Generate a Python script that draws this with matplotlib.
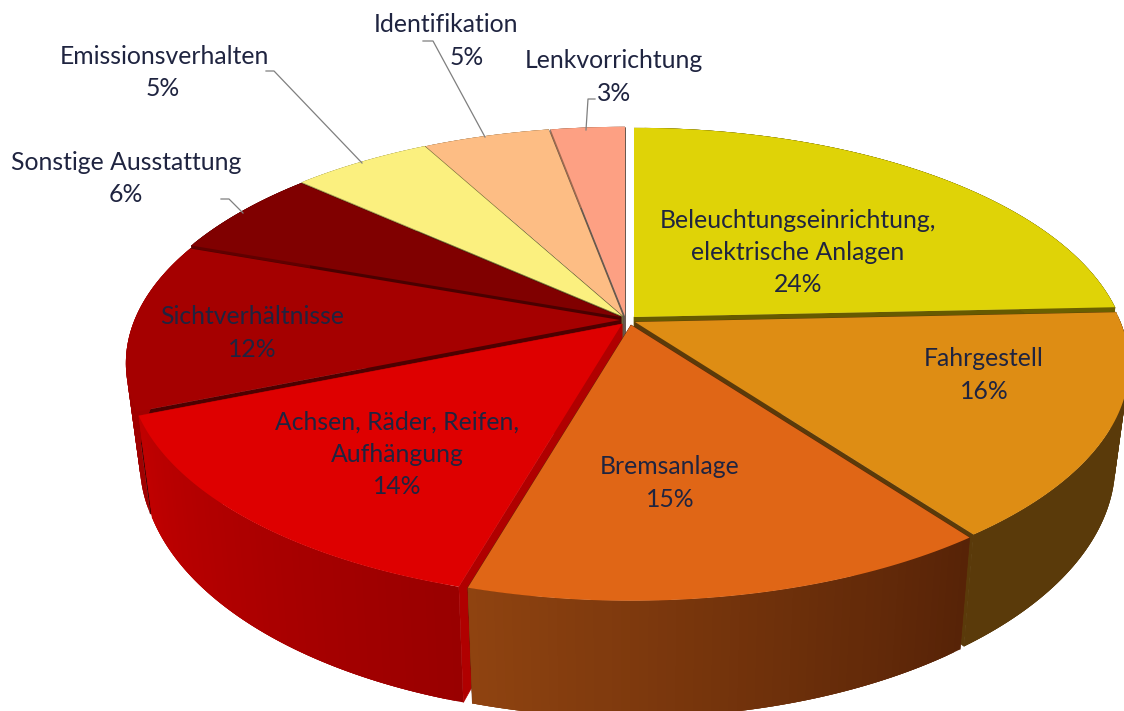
import matplotlib
matplotlib.use("Agg")
import matplotlib.pyplot as plt
import matplotlib.colors as mcolors
import numpy as np

names = ["Beleuchtungseinrichtung,\nelektrische Anlagen", "Fahrgestell", "Bremsanlage",
         "Achsen, Räder, Reifen,\nAufhängung", "Sichtverhältnisse", "Sonstige Ausstattung",
         "Emissionsverhalten", "Identifikation", "Lenkvorrichtung"]
values = [24.3, 15.6, 14.55, 14.35, 11.7, 6.2, 5.45, 4.95, 2.9]

top_colors = ["#dfd307", "#de8d14", "#e06616", "#de0000", "#a50000", "#800000", "#fbf07f", "#fdbd84", "#fda083"]
wall_start = ["#6b6000", "#5a3a0a", "#572307", "#990000", "#a00000", "#600000", "#a09a50", "#a07a50", "#a06a50"]
wall_end = ["#6b6000", "#5a3a0a", "#8f4310", "#c00000", "#a00000", "#600000", "#a09a50", "#a07a50", "#a06a50"]
face_colors = ["#665a00", "#5a3a0a", "#5a2408", "#b00000", "#4d0000", "#4a0000", "#77773a", "#5f5040", "#6a5a50"]

# where each slice's point ends up after being pulled out
apex_x = [634, 635, 631, 622, 620, 621, 622, 623, 625]
apex_y = [317, 322, 325, 324, 320, 317, 316, 316, 316]
draw_order = [8, 7, 6, 5, 0, 4, 1, 3, 2]

# one text position per line of each label
label_x = [798, 984, 670, 397, 252, 126, 164, 446, 614]
label_y = [220, 359, 467, 422, 317, 162, 56, 25, 61]
pct_x = [798, 984, 670, 397, 252, 126, 163, 467, 614]
line_step = 32.5

leaders = [([221, 229, 243], [199, 199, 213]),
           ([266, 274, 362], [71, 71, 163]),
           ([423, 433, 485], [41, 41, 137]),
           ([595, 588, 586], [99, 99, 130])]

DEPTH = 5.37
FOCAL_X = 2607
FOCAL_Y = 1205
HEIGHT = 95
BOTTOM_SHRINK = 0.972


def project(theta, ax0, ay0):
    z = np.cos(theta)
    x = FOCAL_X * np.sin(theta) / (DEPTH + z)
    y = -FOCAL_Y * z / (DEPTH + z)
    return ax0 + x, ay0 + y, z


def lower(x, y, z, ax0):
    return ax0 + (x - ax0) * BOTTOM_SHRINK, y + HEIGHT * DEPTH / (DEPTH + z)


fig = plt.figure(figsize=(11.24, 7.11), dpi=100)
ax = fig.add_axes([0, 0, 1, 1])
ax.set_xlim(0, 1124)
ax.set_ylim(711, 0)
ax.axis("off")

edges = np.concatenate([[0], np.cumsum(values)]) / np.sum(values) * 2 * np.pi

for i in draw_order:
    t = np.linspace(edges[i], edges[i + 1], 60)
    x, y, z = project(t, apex_x[i], apex_y[i])
    bx, by = lower(x, y, z, apex_x[i])
    ax0, ay0 = apex_x[i], apex_y[i]

    # cut faces
    for k in (0, -1):
        ax.fill([ax0, x[k], bx[k], ax0], [ay0, y[k], by[k], ay0 + HEIGHT],
                color=face_colors[i], lw=0.5)

    # outer wall, shaded along the arc; strips overlap so no seams show
    c0 = np.array(mcolors.to_rgb(wall_start[i]))
    c1 = np.array(mcolors.to_rgb(wall_end[i]))
    n = len(t)
    for k in range(n - 1):
        col = c0 + (c1 - c0) * k / (n - 2)
        last = min(k + 3, n - 1)
        ax.fill(np.r_[x[k:last + 1], bx[k:last + 1][::-1]], np.r_[y[k:last + 1], by[k:last + 1][::-1]],
                color=col, lw=0)

    ax.fill(np.r_[ax0, x], np.r_[ay0, y], color=top_colors[i], lw=0)

for xs, ys in leaders:
    ax.plot(xs, ys, color="#7f7f7f", lw=0.9)

for i, name in enumerate(names):
    lines = name.split("\n")
    for j, line in enumerate(lines):
        ax.text(label_x[i], label_y[i] + j * line_step, line, ha="center", va="center",
                fontsize=17.8, family="Lato", color="#1f2440")
    ax.text(pct_x[i], label_y[i] + len(lines) * line_step, f"{values[i]:.0f}%", ha="center", va="center",
            fontsize=17.8, family="Lato", color="#1f2440")

fig.savefig("out.png", dpi=100)
